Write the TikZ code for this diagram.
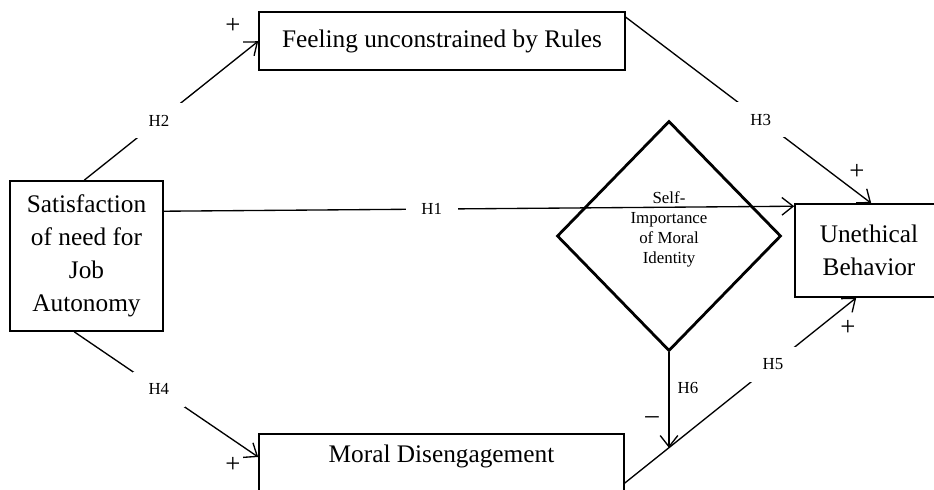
\documentclass[tikz,border=0pt]{standalone}
\usepackage{fontspec}
\setmainfont{Liberation Serif}
\usetikzlibrary{shapes.geometric,arrows.meta,calc}

\tikzset{
	box/.style={draw, line width=1.1pt, align=center, inner sep=0pt,
		font=\fontsize{18}{23.5}\selectfont},
	hyp/.style={fill=white, inner xsep=0.39cm, inner ysep=0.3cm,
		font=\fontsize{12}{13}\selectfont},
	sign/.style={inner sep=0pt, font=\fontsize{19}{19}\selectfont},
	arr/.style={line width=0.95pt, -{Straight Barb[length=2.8mm,width=4.4mm]}}
}

\begin{document}
\begin{tikzpicture}[x=0.025cm, y=-0.025cm]
		\useasboundingbox (0,0) rectangle (934,489);
		\clip (0,0) rectangle (934,489);

		\node[box, minimum width=3.825cm, minimum height=3.75cm] (sat) at (86.5,256)
			{Satisfaction\\of need for\\Job\\Autonomy};
		\node[box, minimum width=9.15cm, minimum height=1.45cm] (feel) at (442,41)
			{Feeling unconstrained by Rules};
		\node[box, anchor=north, minimum width=9.125cm, inner ysep=0.29cm,
			text depth=2cm] (dis) at (441.5,433) {Moral Disengagement};
		\node[box, minimum width=3.7cm, minimum height=2.325cm] (ueb) at (869,250.5)
			{Unethical\\Behavior};
		\node[diamond, draw, line width=2pt, minimum width=5.6cm, minimum height=5.75cm,
			inner sep=0pt] (moral) at (669,236) {};
		\node[align=center, font=\fontsize{12}{14.2}\selectfont] (identity) at (669,229)
			{Self-\\Importance\\of Moral\\Identity};

		% hypotheses
		\draw[arr] ($(sat.north east)+(0,31)$) -- ($(ueb.north west)+(0,3)$)
			node[hyp, pos=0.425] (h1) {H1};
		\draw[arr] ($(sat.north west)+(75,0)$) -- ($(feel.north west)+(0,30)$)
			node[hyp, pos=0.43] (h2) {H2};
		\draw[arr] ($(feel.north east)+(0,6)$) -- ($(ueb.north west)+(77,0)$)
			node[hyp, pos=0.55] (h3) {H3};
		\draw[arr] ($(sat.south west)+(65,0)$) -- ($(dis.north west)+(0,24)$)
			node[hyp, pos=0.46] (h4) {H4};
		\draw[arr] ($(dis.north east)+(0,50)$) -- ($(ueb.south west)+(62,0)$)
			coordinate[pos=0.19] (mod)
			node[hyp, pos=0.64] (h5) {H5};
		\draw[arr] (moral.south) -- (moral.south |- mod)
			node[right, pos=0.375, inner sep=0.2cm, font=\fontsize{12}{13}\selectfont] (h6) {H6};

		\node[sign] (p2) at (233,26) {+};
		\node[sign] (p3) at (857,172) {+};
		\node[sign] (p4) at (233,465) {+};
		\node[sign] (p5) at (848,328) {+};
		\node[sign] (m6) at (652,420) {--};
\end{tikzpicture}
\end{document}
